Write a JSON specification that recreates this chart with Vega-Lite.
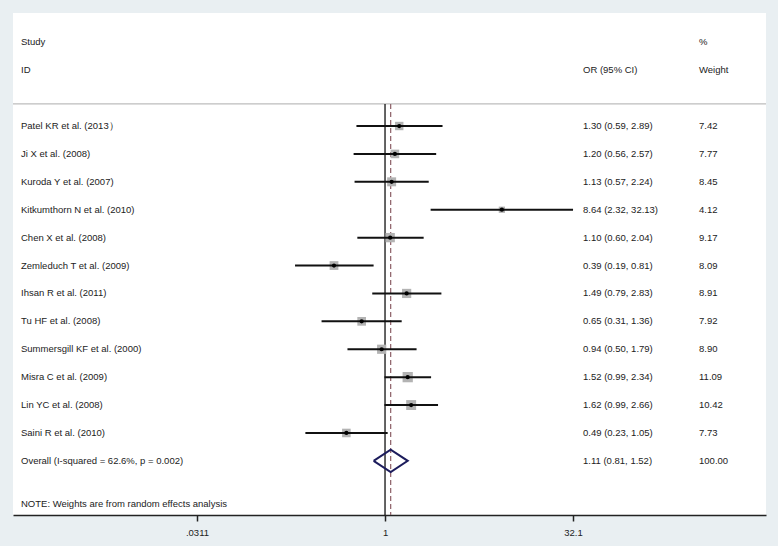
{
  "$schema": "https://vega.github.io/schema/vega-lite/v6.json",
  "width": 753,
  "height": 502,
  "autosize": {"type": "none"},
  "padding": {"left": 13, "right": 12, "top": 13, "bottom": 31},
  "background": "#e9eff2",
  "view": {"fill": "white", "stroke": null},
  "config": {"font": "Liberation Sans", "text": {"font": "Liberation Sans"}},
  "datasets": {
    "studies": [
      {"row": 0, "study": "Patel KR et al. (2013）", "or": 1.30, "lo": 0.59, "hi": 2.89, "weight": 7.42, "ortext": "1.30 (0.59, 2.89)", "wtext": "7.42"},
      {"row": 1, "study": "Ji X et al. (2008)", "or": 1.20, "lo": 0.56, "hi": 2.57, "weight": 7.77, "ortext": "1.20 (0.56, 2.57)", "wtext": "7.77"},
      {"row": 2, "study": "Kuroda Y et al. (2007)", "or": 1.13, "lo": 0.57, "hi": 2.24, "weight": 8.45, "ortext": "1.13 (0.57, 2.24)", "wtext": "8.45"},
      {"row": 3, "study": "Kitkumthorn N et al. (2010)", "or": 8.64, "lo": 2.32, "hi": 32.13, "weight": 4.12, "ortext": "8.64 (2.32, 32.13)", "wtext": "4.12"},
      {"row": 4, "study": "Chen X et al. (2008)", "or": 1.10, "lo": 0.60, "hi": 2.04, "weight": 9.17, "ortext": "1.10 (0.60, 2.04)", "wtext": "9.17"},
      {"row": 5, "study": "Zemleduch T et al. (2009)", "or": 0.39, "lo": 0.19, "hi": 0.81, "weight": 8.09, "ortext": "0.39 (0.19, 0.81)", "wtext": "8.09"},
      {"row": 6, "study": "Ihsan R et al. (2011)", "or": 1.49, "lo": 0.79, "hi": 2.83, "weight": 8.91, "ortext": "1.49 (0.79, 2.83)", "wtext": "8.91"},
      {"row": 7, "study": "Tu HF et al. (2008)", "or": 0.65, "lo": 0.31, "hi": 1.36, "weight": 7.92, "ortext": "0.65 (0.31, 1.36)", "wtext": "7.92"},
      {"row": 8, "study": "Summersgill KF et al. (2000)", "or": 0.94, "lo": 0.50, "hi": 1.79, "weight": 8.90, "ortext": "0.94 (0.50, 1.79)", "wtext": "8.90"},
      {"row": 9, "study": "Misra C et al. (2009)", "or": 1.52, "lo": 0.99, "hi": 2.34, "weight": 11.09, "ortext": "1.52 (0.99, 2.34)", "wtext": "11.09"},
      {"row": 10, "study": "Lin YC et al. (2008)", "or": 1.62, "lo": 0.99, "hi": 2.66, "weight": 10.42, "ortext": "1.62 (0.99, 2.66)", "wtext": "10.42"},
      {"row": 11, "study": "Saini R et al. (2010)", "or": 0.49, "lo": 0.23, "hi": 1.05, "weight": 7.73, "ortext": "0.49 (0.23, 1.05)", "wtext": "7.73"}
    ],
    "texts": [
      {"row": -3, "study": "Study", "ortext": "", "wtext": "%"},
      {"row": -2, "study": "ID", "ortext": "OR (95% CI)", "wtext": "Weight"},
      {"row": 12, "study": "Overall  (I-squared = 62.6%, p = 0.002)", "ortext": "1.11 (0.81, 1.52)", "wtext": "100.00"},
      {"row": 13.55, "study": "NOTE: Weights are from random effects analysis", "ortext": "", "wtext": ""}
    ],
    "diamond": [
      {"order": 1, "x": 0.81, "row": 12},
      {"order": 2, "x": 1.11, "row": 11.6},
      {"order": 3, "x": 1.52, "row": 12},
      {"order": 4, "x": 1.11, "row": 12.4},
      {"order": 5, "x": 0.81, "row": 12}
    ]
  },
  "encoding": {
    "y": {"field": "row", "type": "quantitative", "scale": {"domain": [-4.05, 13.94], "reverse": true, "nice": false, "zero": false}, "axis": null}
  },
  "layer": [
    {
      "data": {"values": [{"row": -0.79}]},
      "mark": {"type": "rule", "stroke": "#bdbdbd", "strokeWidth": 1.2},
      "encoding": {
        "x": {"datum": 0.001043, "type": "quantitative", "scale": {"type": "log", "domain": [0.001043, 1131], "nice": false}},
        "x2": {"datum": 1131}
      }
    },
    {
      "data": {"values": [{"x": 1.11, "row": -0.79, "row_end": 13.94}]},
      "mark": {"type": "rule", "stroke": "#8c5f66", "strokeWidth": 1.2, "strokeDash": [5, 3]},
      "encoding": {
        "x": {"field": "x", "type": "quantitative"},
        "y2": {"field": "row_end"}
      }
    },
    {
      "data": {"values": [{"x": 1, "row": -0.79, "row_end": 13.94}]},
      "mark": {"type": "rule", "stroke": "#111111", "strokeWidth": 1.3},
      "encoding": {
        "x": {"field": "x", "type": "quantitative"},
        "y2": {"field": "row_end"}
      }
    },
    {
      "data": {"name": "studies"},
      "mark": {"type": "square", "filled": true, "color": "#b3b3b3", "opacity": 1},
      "encoding": {
        "x": {"field": "or", "type": "quantitative"},
        "size": {"field": "weight", "type": "quantitative", "scale": {"domain": [0, 10], "range": [0, 95]}, "legend": null}
      }
    },
    {
      "data": {"name": "studies"},
      "mark": {"type": "rule", "stroke": "#111111", "strokeWidth": 2},
      "encoding": {
        "x": {"field": "lo", "type": "quantitative"},
        "x2": {"field": "hi"}
      }
    },
    {
      "data": {"name": "studies"},
      "mark": {"type": "circle", "color": "#000000", "size": 18, "opacity": 1},
      "encoding": {
        "x": {"field": "or", "type": "quantitative"}
      }
    },
    {
      "data": {"name": "diamond"},
      "mark": {"type": "line", "stroke": "#1c1c5c", "strokeWidth": 2},
      "encoding": {
        "x": {"field": "x", "type": "quantitative"},
        "order": {"field": "order", "type": "quantitative"}
      }
    },
    {
      "data": {"name": "studies"},
      "mark": {"type": "text", "align": "left", "baseline": "middle", "fontSize": 9.5, "color": "#222222"},
      "encoding": {"x": {"datum": 0.001209}, "text": {"field": "study"}}
    },
    {
      "data": {"name": "studies"},
      "mark": {"type": "text", "align": "left", "baseline": "middle", "fontSize": 9.5, "color": "#222222"},
      "encoding": {"x": {"datum": 38.64}, "text": {"field": "ortext"}}
    },
    {
      "data": {"name": "studies"},
      "mark": {"type": "text", "align": "left", "baseline": "middle", "fontSize": 9.5, "color": "#222222"},
      "encoding": {"x": {"datum": 328.6}, "text": {"field": "wtext"}}
    },
    {
      "data": {"name": "texts"},
      "mark": {"type": "text", "align": "left", "baseline": "middle", "fontSize": 9.5, "color": "#222222"},
      "encoding": {"x": {"datum": 0.001209}, "text": {"field": "study"}}
    },
    {
      "data": {"name": "texts"},
      "mark": {"type": "text", "align": "left", "baseline": "middle", "fontSize": 9.5, "color": "#222222"},
      "encoding": {"x": {"datum": 38.64}, "text": {"field": "ortext"}}
    },
    {
      "data": {"name": "texts"},
      "mark": {"type": "text", "align": "left", "baseline": "middle", "fontSize": 9.5, "color": "#222222"},
      "encoding": {"x": {"datum": 328.6}, "text": {"field": "wtext"}}
    },
    {
      "data": {"values": [{"v": 0.0311, "row": 0}, {"v": 1, "row": 0}, {"v": 32.1, "row": 0}]},
      "mark": {"type": "point", "opacity": 0},
      "encoding": {
        "x": {
          "field": "v",
          "type": "quantitative",
          "axis": {
            "values": [0.0311, 1, 32.1],
            "labelExpr": "datum.value < 0.5 ? '.0311' : (datum.value > 2 ? '32.1' : '1')",
            "grid": false,
            "title": null,
            "domainColor": "#222222",
            "domainWidth": 1.5,
            "tickColor": "#222222",
            "tickWidth": 1.5,
            "tickSize": 6,
            "labelFontSize": 9.5,
            "labelColor": "#222222",
            "labelPadding": 6,
            "labelFont": "Liberation Sans"
          }
        }
      }
    }
  ]
}
